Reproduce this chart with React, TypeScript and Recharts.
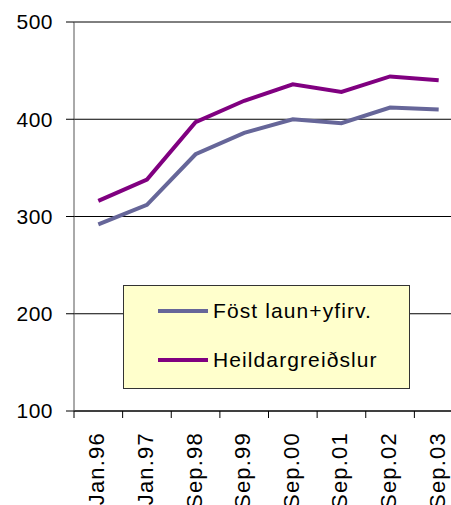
import { LineChart, Line, XAxis, YAxis, CartesianGrid, Legend } from 'recharts';

const periods = ['Jan.96', 'Jan.97', 'Sep.98', 'Sep.99', 'Sep.00', 'Sep.01', 'Sep.02', 'Sep.03'];
const fastLaun = [292, 312, 364, 386, 400, 396, 412, 410];
const heildar = [316, 338, 397, 419, 436, 428, 444, 440];
const yTicks = [100, 200, 300, 400, 500];

const seriesNames = { fast: 'Föst laun+yfirv.', heild: 'Heildargreiðslur' };
const colors = { fast: '#666699', heild: '#800080' };

const data = periods.map((p, i) => ({ period: p, fast: fastLaun[i], heild: heildar[i] }));

const FONT = '"Liberation Sans", Arial, sans-serif';
const PLOT_W = 389;
const BAND = PLOT_W / periods.length;

const XTick = (props: any) => {
  const { x, y, payload } = props;
  const bx = x - BAND / 2;
  const tx = x + 6;
  const ty = y + 21;
  return (
    <g>
      <line x1={bx} x2={bx} y1={y} y2={y + 7} stroke="#000" />
      <text
        x={tx}
        y={ty}
        transform={`rotate(-90, ${tx}, ${ty})`}
        textAnchor="end"
        fontSize={22}
        fontFamily={FONT}
        letterSpacing={1.2}
        fill="#000"
      >
        {payload.value}
      </text>
    </g>
  );
};

const LegendBox = () => (
  <div
    style={{
      width: 287,
      height: 104,
      background: '#FFFFCC',
      border: '1px solid #333',
      boxSizing: 'border-box',
      position: 'relative',
      fontFamily: FONT,
      fontSize: 21,
      letterSpacing: 1.1,
      color: '#000',
    }}
  >
    {(['fast', 'heild'] as const).map((k, i) => (
      <div key={k} style={{ position: 'absolute', left: 0, top: 12 + i * 49, height: 26, width: '100%' }}>
        <div
          style={{
            position: 'absolute',
            left: 34,
            top: 11,
            width: 50,
            height: 4,
            background: colors[k],
          }}
        />
        <div style={{ position: 'absolute', left: 89, top: 0, lineHeight: '26px', whiteSpace: 'nowrap' }}>
          {seriesNames[k]}
        </div>
      </div>
    ))}
  </div>
);

export default function App() {
  return (
    <div
      style={{
        position: 'fixed',
        left: 0,
        top: 0,
        width: 451,
        height: 505,
        overflow: 'hidden',
        background: '#fff',
      }}
    >
      <LineChart
        width={474}
        height={505}
        data={data}
        margin={{ top: 22, right: 11, bottom: 0, left: 0 }}
      >
        <CartesianGrid vertical={false} stroke="#000" />
        <XAxis
          dataKey="period"
          interval={0}
          height={94}
          tickSize={0}
          tickMargin={0}
          padding={{ left: BAND / 2, right: BAND / 2 }}
          tick={<XTick />}
          axisLine={{ stroke: '#000' }}
        />
        <YAxis
          width={74}
          domain={[100, 500]}
          ticks={yTicks}
          tickSize={8}
          tickMargin={13}
          axisLine={{ stroke: '#555' }}
          tickLine={{ stroke: '#000' }}
          tick={{ fill: '#000', fontSize: 21, fontFamily: FONT, letterSpacing: 0.5 }}
        />
        <Legend
          layout="vertical"
          align="center"
          verticalAlign="middle"
          content={<LegendBox />}
          wrapperStyle={{ left: 123, top: 285, width: 287, height: 104 }}
        />
        <Line
          type="linear"
          dataKey="fast"
          name={seriesNames.fast}
          stroke={colors.fast}
          strokeWidth={4}
          dot={false}
          isAnimationActive={false}
        />
        <Line
          type="linear"
          dataKey="heild"
          name={seriesNames.heild}
          stroke={colors.heild}
          strokeWidth={4}
          dot={false}
          isAnimationActive={false}
        />
      </LineChart>
    </div>
  );
}
